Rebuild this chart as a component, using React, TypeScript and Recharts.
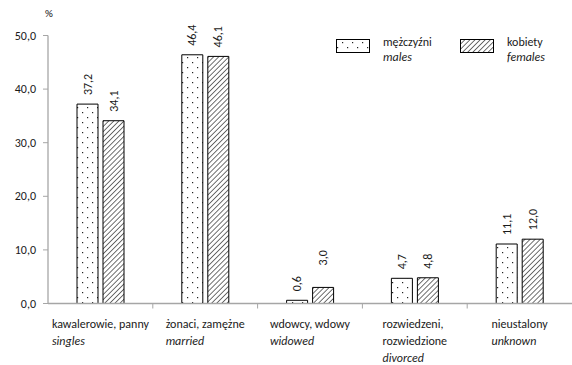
import React from "react";
import { BarChart, Bar, XAxis, YAxis, LabelList } from "recharts";

const categoriesPl = [
  "kawalerowie, panny",
  "żonaci, zamężne",
  "wdowcy, wdowy",
  "rozwiedzeni,\nrozwiedzione",
  "nieustalony",
];
const categoriesEn = ["singles", "married", "widowed", "divorced", "unknown"];
const malesValues = [37.2, 46.4, 0.6, 4.7, 11.1];
const femalesValues = [34.1, 46.1, 3.0, 4.8, 12.0];
const yTicks = [0, 10, 20, 30, 40, 50];
const legendPl = ["mężczyźni", "kobiety"];
const legendEn = ["males", "females"];
const unitLabel = "%";

const data = categoriesPl.map((pl, i) => ({
  pl,
  en: categoriesEn[i],
  males: malesValues[i],
  females: femalesValues[i],
}));

const W = 572;
const H = 365;
const FONT = "Carlito, Lato, sans-serif";
const TXT = "#1a1a1a";
const AXIS = "#a6a6a6";
const MARGIN = { top: 35.5, right: 0, bottom: 31.5, left: 0 };
const Y_WIDTH = 48;
const X_HEIGHT = 30;

const fmt = (v: number) => v.toFixed(1).replace(".", ",");

let measureCtx: CanvasRenderingContext2D | null = null;
const measure = (t: string, italic: boolean) => {
  if (!measureCtx) {
    const c = document.createElement("canvas");
    measureCtx = c.getContext("2d");
  }
  if (!measureCtx) return t.length * 6;
  measureCtx.font = `${italic ? "italic " : ""}12px ${FONT}`;
  return measureCtx.measureText(t).width;
};

const bandWidth = (W - MARGIN.left - MARGIN.right - Y_WIDTH) / categoriesPl.length;

const XTick = (props: any) => {
  const { x, y, index } = props;
  const plLines = categoriesPl[index].split("\n");
  const en = categoriesEn[index];
  const maxW = Math.max(...plLines.map((l) => measure(l, false)), measure(en, true));
  const left = x - maxW / 2;
  const enY = y + 24.5 + plLines.length * 17;
  return (
    <g>
      {index < categoriesPl.length - 1 && (
        <line x1={x + bandWidth / 2} x2={x + bandWidth / 2} y1={y} y2={y + 5} stroke={AXIS} strokeWidth={1} />
      )}
      {plLines.map((l, i) => (
        <text key={i} x={left} y={y + 24.5 + i * 17} fontSize={12} fontFamily={FONT} fill={TXT} textAnchor="start">
          {l}
        </text>
      ))}
      <text x={left} y={enY} fontSize={12} fontFamily={FONT} fill={TXT} fontStyle="italic" textAnchor="start">
        {en}
      </text>
    </g>
  );
};

const YTick = (props: any) => {
  const { x, y, payload } = props;
  return (
    <text x={x} y={y} dy={4} fontSize={12} fontFamily={FONT} fill={TXT} textAnchor="end">
      {fmt(payload.value)}
    </text>
  );
};

// extra lift for a label that was moved up in the source chart
const femaleLabelLift = [0, 0, 13, 0, 0];

const makeLabel = (lift: number[]) => (props: any) => {
  const { x, y, width, value, index } = props;
  const cx = x + width / 2;
  const ty = y - 9 - (lift[index] || 0);
  return (
    <text
      transform={`translate(${cx},${ty}) rotate(-90)`}
      textAnchor="start"
      dominantBaseline="central"
      fontSize={12}
      fontFamily={FONT}
      fill={TXT}
    >
      {fmt(value)}
    </text>
  );
};

const Patterns = () => (
  <svg width={0} height={0} style={{ position: "absolute" }}>
    <defs>
      <pattern id="dotsPat" patternUnits="userSpaceOnUse" width={10} height={10}>
        <rect width={10} height={10} fill="#fff" />
        <rect x={2} y={2} width={1.2} height={1.2} fill="#222" />
        <rect x={7} y={7} width={1.2} height={1.2} fill="#222" />
      </pattern>
      <pattern
        id="hatchPat"
        patternUnits="userSpaceOnUse"
        width={3.6}
        height={3.6}
        patternTransform="rotate(45)"
      >
        <rect width={3.6} height={3.6} fill="#fff" />
        <line x1={0} y1={0} x2={0} y2={3.6} stroke="#222" strokeWidth={1.3} />
      </pattern>
    </defs>
  </svg>
);

export default function App() {
  return (
    <div style={{ position: "absolute", left: 0, top: 0, width: W, height: H, background: "#fff" }}>
      <Patterns />
      <BarChart
        width={W}
        height={H}
        data={data}
        margin={MARGIN}
        barSize={21}
        barGap={5}
      >
        <XAxis
          dataKey="pl"
          height={X_HEIGHT}
          axisLine={{ stroke: AXIS, strokeWidth: 1.3 }}
          tickLine={false}
          tickSize={0}
          tickMargin={0}
          interval={0}
          tick={<XTick />}
        />
        <YAxis
          width={Y_WIDTH}
          domain={[0, 50]}
          ticks={yTicks}
          interval={0}
          axisLine={{ stroke: AXIS, strokeWidth: 1.3 }}
          tickLine={{ stroke: AXIS }}
          tickSize={5}
          tickMargin={7}
          tick={<YTick />}
        />
        <Bar dataKey="males" fill="url(#dotsPat)" stroke="#000" strokeWidth={1} isAnimationActive={false}>
          <LabelList dataKey="males" content={makeLabel([0, 0, 0, 0, 0])} />
        </Bar>
        <Bar dataKey="females" fill="url(#hatchPat)" stroke="#000" strokeWidth={1} isAnimationActive={false}>
          <LabelList dataKey="females" content={makeLabel(femaleLabelLift)} />
        </Bar>
      </BarChart>
      <svg
        width={W}
        height={H}
        style={{ position: "absolute", left: 0, top: 0, pointerEvents: "none" }}
      >
        <text x={45} y={17} fontSize={11} fontFamily={FONT} fill={TXT}>
          {unitLabel}
        </text>
        <rect x={336.5} y={39.5} width={33} height={13} fill="url(#dotsPat)" stroke="#000" strokeWidth={1} />
        <text x={383} y={46} fontSize={12} fontFamily={FONT} fill={TXT}>
          {legendPl[0]}
        </text>
        <text x={383} y={61} fontSize={12} fontFamily={FONT} fill={TXT} fontStyle="italic">
          {legendEn[0]}
        </text>
        <rect x={460.5} y={39.5} width={33} height={13} fill="url(#hatchPat)" stroke="#000" strokeWidth={1} />
        <text x={507} y={46} fontSize={12} fontFamily={FONT} fill={TXT}>
          {legendPl[1]}
        </text>
        <text x={507} y={61} fontSize={12} fontFamily={FONT} fill={TXT} fontStyle="italic">
          {legendEn[1]}
        </text>
      </svg>
    </div>
  );
}
